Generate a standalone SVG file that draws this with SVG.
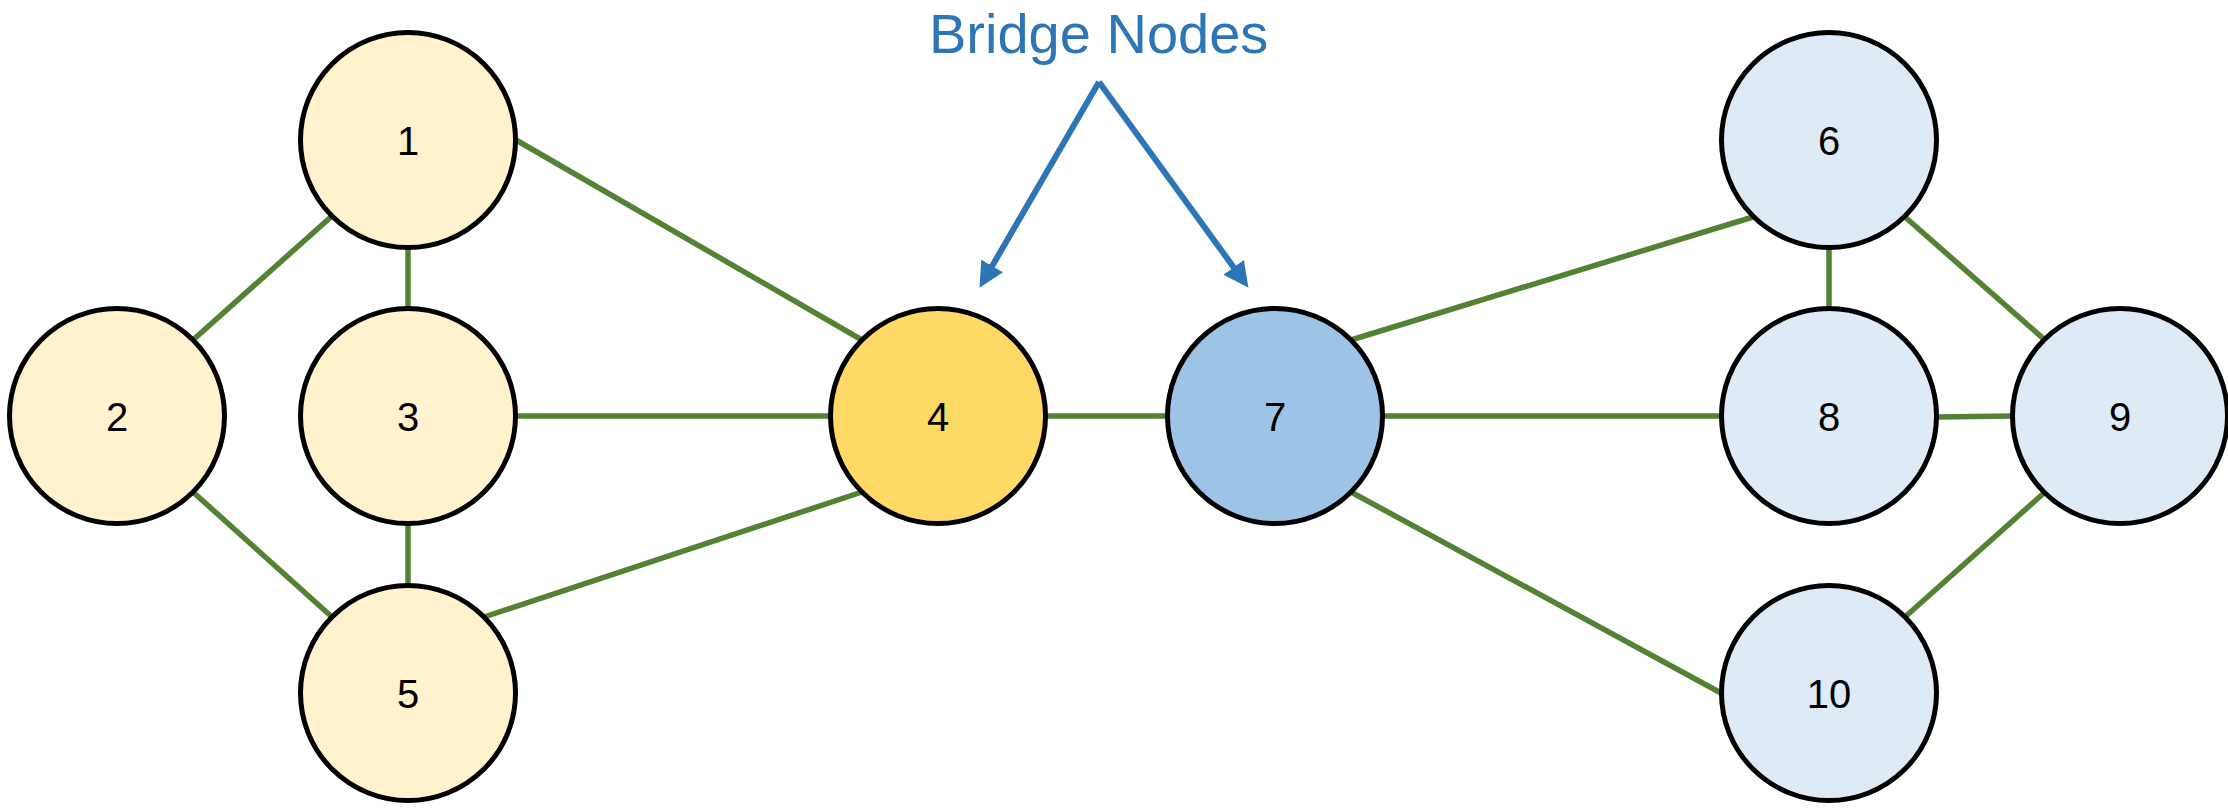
<svg xmlns="http://www.w3.org/2000/svg" width="2228" height="808" viewBox="0 0 2228 808">
  <style>
    .edge { stroke: #548235; stroke-width: 5.5; fill: none; }
    .ptr { stroke: #2E75B6; stroke-width: 6; fill: none; }
    .node circle { stroke: #000; stroke-width: 5; }
    .left circle { fill: #FFF2CC; }
    .right circle { fill: #DEEBF7; }
    .node text { font-family: "Liberation Sans", Arial, sans-serif; font-size: 40px; fill: #000; text-anchor: middle; }
    .title { font-family: "Liberation Sans", Arial, sans-serif; font-size: 56px; fill: #2E75B6; }
  </style>
  <defs>
    <marker id="arrowhead" viewBox="0 0 10 10" refX="3" refY="5" markerWidth="4.2" markerHeight="4.2" markerUnits="strokeWidth" orient="auto">
      <path d="M0,0 L10,5 L0,10 Z" fill="#2E75B6"/>
    </marker>
  </defs>

  <rect width="2228" height="808" fill="#fff"/>

  <!-- connectors -->
  <g id="edges">
    <line class="edge" x1="332" y1="216" x2="193" y2="340"/>
    <line class="edge" x1="408" y1="248" x2="408" y2="308"/>
    <line class="edge" x1="516" y1="140" x2="862" y2="340"/>
    <line class="edge" x1="193" y1="492" x2="332" y2="617"/>
    <line class="edge" x1="408" y1="524" x2="408" y2="585"/>
    <line class="edge" x1="516" y1="416" x2="830" y2="416"/>
    <line class="edge" x1="484" y1="617" x2="862" y2="492"/>
    <line class="edge" x1="1046" y1="416" x2="1167" y2="416"/>
    <line class="edge" x1="1351" y1="340" x2="1753" y2="217"/>
    <line class="edge" x1="1383" y1="416" x2="1721" y2="416"/>
    <line class="edge" x1="1351" y1="492" x2="1721" y2="693"/>
    <line class="edge" x1="1829" y1="248" x2="1829" y2="308"/>
    <line class="edge" x1="1905" y1="217" x2="2045" y2="340"/>
    <line class="edge" x1="1937" y1="417" x2="2012" y2="416"/>
    <line class="edge" x1="2045" y1="492" x2="1905" y2="617"/>
  </g>

  <!-- callout pointing at the two bridge nodes -->
  <g id="callout">
    <text class="title" x="929" y="53">Bridge Nodes</text>
    <line class="ptr" x1="1099" y1="82" x2="988.4" y2="272.5" marker-end="url(#arrowhead)"/>
    <line class="ptr" x1="1099" y1="82" x2="1238.1" y2="273.4" marker-end="url(#arrowhead)"/>
  </g>

  <!-- nodes -->
  <g id="node1" class="node left"><circle cx="408" cy="140" r="107.5"/><text x="408" y="155">1</text></g>
  <g id="node2" class="node left"><circle cx="117" cy="416" r="107.5"/><text x="117" y="431">2</text></g>
  <g id="node3" class="node left"><circle cx="408" cy="416" r="107.5"/><text x="408" y="431">3</text></g>
  <g id="node4" class="node left"><circle cx="938" cy="416" r="107.5" style="fill:#FFD966"/><text x="938" y="431">4</text></g>
  <g id="node5" class="node left"><circle cx="408" cy="693" r="107.5"/><text x="408" y="708">5</text></g>
  <g id="node6" class="node right"><circle cx="1829" cy="140" r="107.5"/><text x="1829" y="155">6</text></g>
  <g id="node7" class="node right"><circle cx="1275" cy="416" r="107.5" style="fill:#9DC3E6"/><text x="1275" y="431">7</text></g>
  <g id="node8" class="node right"><circle cx="1829" cy="416" r="107.5"/><text x="1829" y="431">8</text></g>
  <g id="node9" class="node right"><circle cx="2120" cy="416" r="107.5"/><text x="2120" y="431">9</text></g>
  <g id="node10" class="node right"><circle cx="1829" cy="693" r="107.5"/><text x="1829" y="708">10</text></g>
</svg>
